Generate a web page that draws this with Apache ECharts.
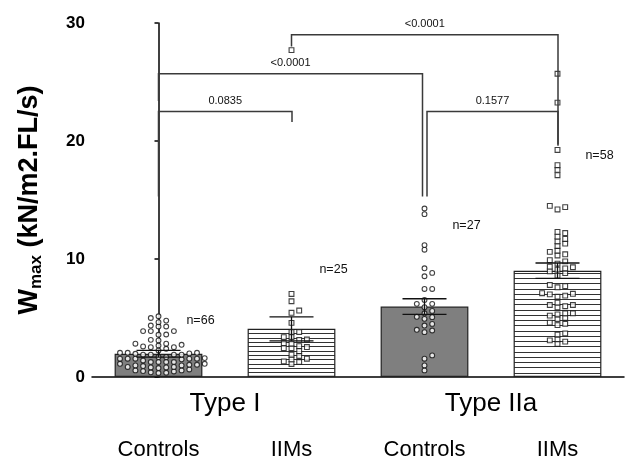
<!DOCTYPE html>
<html><head><meta charset="utf-8">
<script src="https://cdn.jsdelivr.net/npm/echarts@6/dist/echarts.min.js"></script>
<style>html,body{margin:0;padding:0;background:#fff}#c{width:629px;height:461px}</style>
</head><body><div id="c"></div>
<script>
// ---------- data ----------
const groups = ['Controls', 'IIMs', 'Controls', 'IIMs'];
const types = ['Type I', 'Type IIa'];
const barMeans = [1.97, 4.08, 5.97, 9.01];
const barSem = [0.28, 1.02, 0.66, 0.65];
const nCounts = [66, 25, 27, 58];
const typeIControls = [5.15, 5.0, 4.78, 4.65, 4.36, 4.28, 4.28, 3.89, 3.89, 3.89, 3.6, 3.58, 3.15, 3.1, 2.82, 2.82, 2.73, 2.67, 2.59, 2.53, 2.53, 2.39, 2.25,
  2.05, 2.05, 2.05, 2.0, 1.97, 1.89, 1.89, 1.89, 1.89, 1.69, 1.69, 1.6,
  1.55, 1.55, 1.55, 1.55, 1.55, 1.5, 1.4, 1.27, 1.27, 1.27, 1.27, 1.12, 1.12, 1.04, 1.04, 0.98, 0.98, 0.93, 0.85, 0.85, 0.81, 0.81, 0.76, 0.64, 0.56, 0.56, 0.5, 0.47, 0.4, 0.36, 0.34];
const typeIIIMs = [7.04, 6.42, 5.63, 5.44, 4.59, 3.8, 3.8, 3.38, 3.38, 3.18, 3.15, 2.87, 2.82, 2.62, 2.54, 2.45, 2.45, 2.2, 1.89, 1.78, 1.55, 1.49, 1.32, 1.27, 1.1];
const typeIIaControls = [14.28, 13.8, 11.18, 10.79, 9.21, 8.82, 8.54, 7.46, 7.46, 6.53, 6.2, 6.2, 5.92, 5.6, 5.4, 5.1, 5.07, 4.93, 4.5, 4.36, 4.0, 3.94, 3.8, 1.83, 1.55, 0.98, 0.56];
const typeIIaIIMs = [25.7, 23.25, 19.24, 17.95, 17.55, 17.1, 14.5, 14.4, 14.2, 12.3, 12.2, 11.9, 11.7, 11.5, 11.3, 11.1, 10.7, 10.6, 10.4, 10.3, 9.9, 9.8, 9.6, 9.35, 9.3, 9.2, 9.1, 8.95, 8.8, 8.59, 7.8, 7.7, 7.6, 7.1, 7.05, 7.0, 6.9, 6.8, 6.3, 6.1, 6.1, 6.0, 5.9, 5.4, 5.4, 5.3, 5.2, 5.0, 4.9, 4.6, 4.5, 4.4, 3.7, 3.6, 3.2, 3.1, 3.0, 2.8];
const extraPoint = [27.7];
const bracketFrom = [0, 0, 1, 2];
const bracketTo = [1, 2, 3, 3];
const bracketTop = [22.5, 25.7, 29.0, 22.5];
const bracketLeftEnd = [15.3, 23.4, 28.0, 15.3];
const bracketRightEnd = [21.6, 15.3, 19.7, 19.6];
const bracketText = ['0.0835', '<0.0001', '<0.0001', '0.1577'];
const nLabelY = [4.78, 9.1, 12.87, 18.8];

// ---------- styling ----------
const FONT = '"Liberation Sans", Arial, Helvetica, sans-serif';
function hatch(h, rows) {
  const c = document.createElement('canvas');
  c.width = 8; c.height = h;
  const g = c.getContext('2d');
  g.fillStyle = '#fff'; g.fillRect(0, 0, 8, h);
  g.fillStyle = '#333';
  rows.forEach(r => g.fillRect(0, r, 8, 1));
  return { image: c, repeat: 'repeat' };
}
const hatchA = hatch(13, [0, 4, 8]);
const hatchB = hatch(21, [0, 5, 10, 16]);
const barColors = ['#7f7f7f', hatchA, '#7f7f7f', hatchB];

const chart = echarts.init(document.getElementById('c'), null, { renderer: 'canvas' });
const legShift = [[0, 0.5], [0, -2], [0, 0.5], [2.5, 0.5]];

const baseOption = {
  animation: false,
  backgroundColor: '#fff',
  textStyle: { fontFamily: FONT },
  grid: { left: 91, right: 5, top: 23, bottom: 83 },
  xAxis: [
    { type: 'category', data: groups, boundaryGap: true,
      axisLine: { lineStyle: { color: '#000', width: 1.5 } }, axisTick: { show: false },
      axisLabel: { fontSize: 22, color: '#000', margin: 62, fontFamily: FONT } },
    { type: 'category', data: types, position: 'bottom',
      axisLine: { show: false }, axisTick: { show: false },
      axisLabel: { fontSize: 26, color: '#000', margin: 14, fontFamily: FONT } },
    { type: 'value', min: -0.5, max: 3.5, show: false }
  ],
  yAxis: [{
    type: 'value', min: 0, max: 30, interval: 10,
    axisLine: { show: true, lineStyle: { color: '#000', width: 1.5 } },
    axisTick: { show: true, length: 4, lineStyle: { color: '#000', width: 1.5 } },
    splitLine: { show: false },
    axisLabel: { fontSize: 17, fontWeight: 'bold', color: '#000', margin: 7, fontFamily: FONT },
    name: '{w|W}{sub|max}{w| (kN/m2.FL/s)}',
    nameLocation: 'middle', nameRotate: 90, nameGap: 47,
    nameTextStyle: {
      rich: {
        w: { fontSize: 27, fontWeight: 'bold', color: '#000', fontFamily: FONT, lineHeight: 30 },
        sub: { fontSize: 17, fontWeight: 'bold', color: '#000', fontFamily: FONT, lineHeight: 17, padding: [20, 0, 0, 0], verticalAlign: 'bottom' }
      }
    }
  }],
  series: [
    { type: 'bar', xAxisIndex: 0, yAxisIndex: 0, barWidth: '66%', z: 2,
      data: barMeans.map((m, i) => ({ value: m, itemStyle: { color: barColors[i], borderColor: '#222', borderWidth: 1.2 } })) },
    { type: 'custom', xAxisIndex: 0, yAxisIndex: 0, z: 6,
      data: barMeans.map((m, i) => [i, m - barSem[i], m + barSem[i]]),
      encode: { x: 0, y: [1, 2] },
      renderItem: function (params, api) {
        const x = api.coord([api.value(0), 0])[0];
        const lo = api.coord([api.value(0), api.value(1)])[1];
        const hi = api.coord([api.value(0), api.value(2)])[1];
        const st = { stroke: '#111', lineWidth: 1.3 };
        return { type: 'group', children: [
          { type: 'line', shape: { x1: x, y1: lo, x2: x, y2: hi }, style: st },
          { type: 'line', shape: { x1: x - 22, y1: hi, x2: x + 22, y2: hi }, style: st },
          { type: 'line', shape: { x1: x - 22, y1: lo, x2: x + 22, y2: lo }, style: st }
        ] };
      } },
    { type: 'custom', xAxisIndex: 0, yAxisIndex: 0, z: 7,
      data: bracketFrom.map((f, i) => [f, bracketTo[i], bracketTop[i], bracketLeftEnd[i], bracketRightEnd[i]]),
      encode: { x: [0, 1], y: [2, 3, 4] },
      renderItem: function (params, api) {
        const i = params.dataIndex;
        const xl = api.coord([api.value(0), 0])[0] + legShift[i][0];
        const xr = api.coord([api.value(1), 0])[0] + legShift[i][1];
        const yt = api.coord([0, api.value(2)])[1];
        const yl = api.coord([0, api.value(3)])[1];
        const yr = api.coord([0, api.value(4)])[1];
        return { type: 'group', children: [
          { type: 'polyline', shape: { points: [[xl, yl], [xl, yt], [xr, yt], [xr, yr]] },
            style: { stroke: '#3a3a3a', lineWidth: 1.5, fill: null } },
          { type: 'text', style: { text: bracketText[i], x: (xl + xr) / 2, y: yt - 10.7, align: 'center', verticalAlign: 'middle',
            fontSize: 11, fontFamily: FONT, fill: '#111' } }
        ] };
      } },
    { type: 'custom', xAxisIndex: 0, yAxisIndex: 0, z: 7,
      data: nCounts.map((n, i) => [i, nLabelY[i]]),
      renderItem: function (params, api) {
        const p = api.coord([api.value(0), api.value(1)]);
        return { type: 'text', style: { text: 'n=' + nCounts[params.dataIndex], x: p[0] + 42, y: p[1], align: 'center', verticalAlign: 'middle',
          fontSize: 12.5, fontFamily: FONT, fill: '#111' } };
      } }
  ]
};
chart.setOption(baseOption);

function swarm(values, catIdx) {
  const unitX = chart.convertToPixel({ xAxisIndex: 2 }, 1) - chart.convertToPixel({ xAxisIndex: 2 }, 0);
  const step = 7.7, minDy = 4.3;
  const cols = {};
  const out = [];
  values.slice().sort((a, b) => a - b).forEach(v => {
    const py = chart.convertToPixel({ yAxisIndex: 0 }, v);
    for (let k = 0; k < 60; k++) {
      const c = k === 0 ? 0 : (k % 2 === 1 ? (k + 1) / 2 : -(k / 2));
      const list = cols[c] || (cols[c] = []);
      if (list.every(q => Math.abs(q - py) >= minDy)) {
        list.push(py);
        out.push([catIdx + c * step / unitX, v]);
        break;
      }
    }
  });
  return out;
}
const circ = { color: '#fff', borderColor: '#111', borderWidth: 1.1 };
function pts(name, data, symbol) {
  return { type: 'scatter', name: name, xAxisIndex: 2, yAxisIndex: 0, z: 4, symbol: symbol, symbolSize: 4.8,
    itemStyle: circ, data: data };
}
chart.setOption({ series: baseOption.series.concat([
  pts('typeIControls', swarm(typeIControls, 0), 'circle'),
  pts('typeIIIMs', swarm(typeIIIMs, 1), 'rect'),
  pts('typeIIaControls', swarm(typeIIaControls, 2), 'circle'),
  pts('typeIIaIIMs', swarm(typeIIaIIMs, 3), 'rect'),
  pts('extra', extraPoint.map(v => [1, v]), 'rect')
]) });
</script>
</body></html>
